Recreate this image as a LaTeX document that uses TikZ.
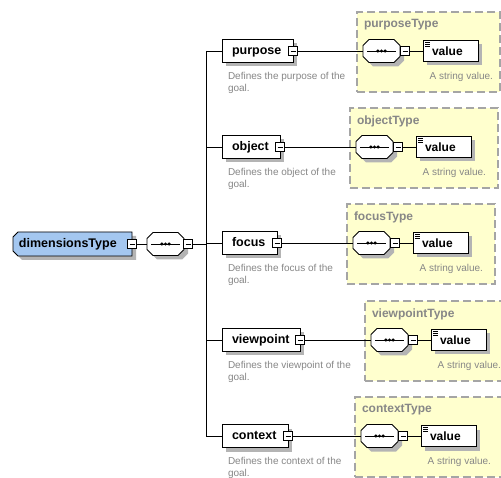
\documentclass[tikz,border=0pt]{standalone}
\usepackage{fontspec}
\setmainfont{Liberation Sans}
\usetikzlibrary{shadows,calc}

\definecolor{typefill}{RGB}{255,255,206}
\definecolor{rootfill}{RGB}{164,199,240}
\definecolor{dashgray}{RGB}{165,165,165}
\definecolor{notegray}{RGB}{135,135,135}
\definecolor{shadowgray}{RGB}{180,180,180}

\tikzset{
  every node/.style={inner sep=0pt, outer sep=0pt},
  link/.style={line width=0.8pt},
  boxshadow/.style={general shadow={fill=shadowgray, shadow xshift=4pt, shadow yshift=-4pt}},
  labelfont/.style={font=\fontsize{12.5}{15}\selectfont\bfseries},
  elem/.style={draw, line width=0.9pt, fill=white, boxshadow, labelfont,
    anchor=west, minimum height=23pt, align=left, inner xsep=10pt,
    text height=9pt, text depth=2.5pt},
  collapse/.style={draw, line width=0.7pt, fill=white, minimum size=9pt,
    path picture={\draw[line width=0.7pt]
      ([xshift=2pt]path picture bounding box.west) --
      ([xshift=-2pt]path picture bounding box.east);}},
  seqbox/.style={minimum width=37pt, minimum height=23pt},
  rootbox/.style={labelfont, minimum width=119pt, minimum height=24pt, anchor=west},
  typebox/.style={draw=dashgray, dash pattern=on 8pt off 4pt, line width=1.3pt,
    fill=typefill, anchor=north west},
  typetitle/.style={text=notegray, font=\fontsize{12}{14}\selectfont\bfseries, anchor=west},
  valuebox/.style={draw, line width=0.9pt, fill=white, boxshadow,
    font=\fontsize{12}{14}\selectfont\bfseries, anchor=west,
    minimum width=55pt, minimum height=21pt, align=left, text width=37pt, inner xsep=9pt,
    path picture={
      \foreach \k in {0,1,2}
        \draw[line width=0.6pt]
          ([xshift=2pt,yshift=-2pt-1.8pt*\k]path picture bounding box.north west) -- ++(5pt,0pt);}},
  note/.style={text=notegray, font=\fontsize{10}{12}\selectfont, align=left}
}

% octagonal outline of a sequence compositor around node #1, offset by (#2,#3)
\newcommand{\octpath}[3]{
  ([xshift=6pt+#2,yshift=#3]#1.north west) -- ([xshift=-6pt+#2,yshift=#3]#1.north east) --
  ([xshift=#2,yshift=-6pt+#3]#1.north east) -- ([xshift=#2,yshift=6pt+#3]#1.south east) --
  ([xshift=-6pt+#2,yshift=#3]#1.south east) -- ([xshift=6pt+#2,yshift=#3]#1.south west) --
  ([xshift=#2,yshift=6pt+#3]#1.south west) -- ([xshift=#2,yshift=-6pt+#3]#1.north west) -- cycle
}
% shadow, outline and the dotted bar of a sequence compositor
\newcommand{\seqdraw}[1]{
  \fill[shadowgray] \octpath{#1}{4pt}{-4pt};
  \filldraw[fill=white, line width=0.8pt] \octpath{#1}{0pt}{0pt};
  \draw[line width=0.8pt] ([xshift=4pt]#1.west) -- ([xshift=-4pt]#1.east);
  \fill ([xshift=-3.6pt]#1.center) circle (1.7pt) (#1.center) circle (1.7pt)
        ([xshift=3.6pt]#1.center) circle (1.7pt);
}
% outline of the root type: left corners cut off, offset by (#2,#3)
\newcommand{\rootpath}[3]{
  ([xshift=5pt+#2,yshift=#3]#1.north west) -- ([xshift=#2,yshift=#3]#1.north east) --
  ([xshift=#2,yshift=#3]#1.south east) -- ([xshift=5pt+#2,yshift=#3]#1.south west) --
  ([xshift=#2,yshift=5pt+#3]#1.south west) -- ([xshift=#2,yshift=-5pt+#3]#1.north west) -- cycle
}

% one element of the sequence together with its complex type
% #1 name, #2 label, #3 row y, #4 label text width, #5 type box left,
% #6 type box right, #7 type name
\newcommand{\schemarow}[7]{
  \node[typebox, minimum width={(#6-#5)*1pt}, minimum height=80pt] (#1T) at (#5,#3-39) {};
  \node[typetitle] (#1Tt) at (#5+7,#3-26) {#7};
  \node[elem, text width=#4pt] (#1) at (222,#3) {#2};
  \node[collapse] (#1M) at (#1.east) {};
  \node[note, anchor=north west] (#1N) at ([xshift=6pt,yshift=-10pt]#1.south west)
    {Defines the #2 of the\\goal.};
  \node[seqbox] (#1C) at (#5+24.5,#3) {};
  \seqdraw{#1C}
  \node[collapse] (#1CM) at (#5+48,#3) {};
  \node[valuebox] (#1V) at (#5+66,#3) {value};
  \node[note, anchor=base east] (#1VN) at ([xshift=15pt,yshift=-18pt]#1V.south east)
    {A string value.};
  \draw[link] (bus |- #1.west) -- (#1.west);
  \draw[link] (#1M.east) -- (#1C.west);
  \draw[link] (#1CM.east) -- (#1V.west);
}

\begin{document}
\begin{tikzpicture}[x=1pt,y=-1pt]
  \useasboundingbox (0,0) rectangle (501,478);
  \fill[white] (0,0) rectangle (501,478);

  \coordinate (bus) at (206,244);

  \schemarow{purpose}{purpose}{51}{51}{357}{500}{purposeType}
  \schemarow{object}{object}{147}{38}{350}{498}{objectType}
  \schemarow{focus}{focus}{243}{35}{347}{495}{focusType}
  \schemarow{viewpoint}{viewpoint}{340}{58}{365}{504}{viewpointType}
  \schemarow{context}{context}{436}{46}{355}{504}{contextType}

  % root complex type
  \node[rootbox] (rootShape) at (13,244) {\phantom{dimensionsType}};
  \fill[shadowgray] \rootpath{rootShape}{4pt}{-4pt};
  \filldraw[fill=rootfill, line width=0.9pt] \rootpath{rootShape}{0pt}{0pt};
  \node[labelfont, anchor=west] (root) at ([xshift=6pt]rootShape.west) {dimensionsType};
  \node[collapse] (rootM) at (rootShape.east) {};

  \node[seqbox] (seq) at (165.5,244) {};
  \seqdraw{seq}
  \node[collapse] (seqM) at (188,244) {};

  \draw[link] (rootM.east) -- (seq.west);
  \draw[link] (seqM.east) -- (bus);
  \draw[link] (bus |- purpose.west) -- (bus |- context.west);
\end{tikzpicture}
\end{document}
